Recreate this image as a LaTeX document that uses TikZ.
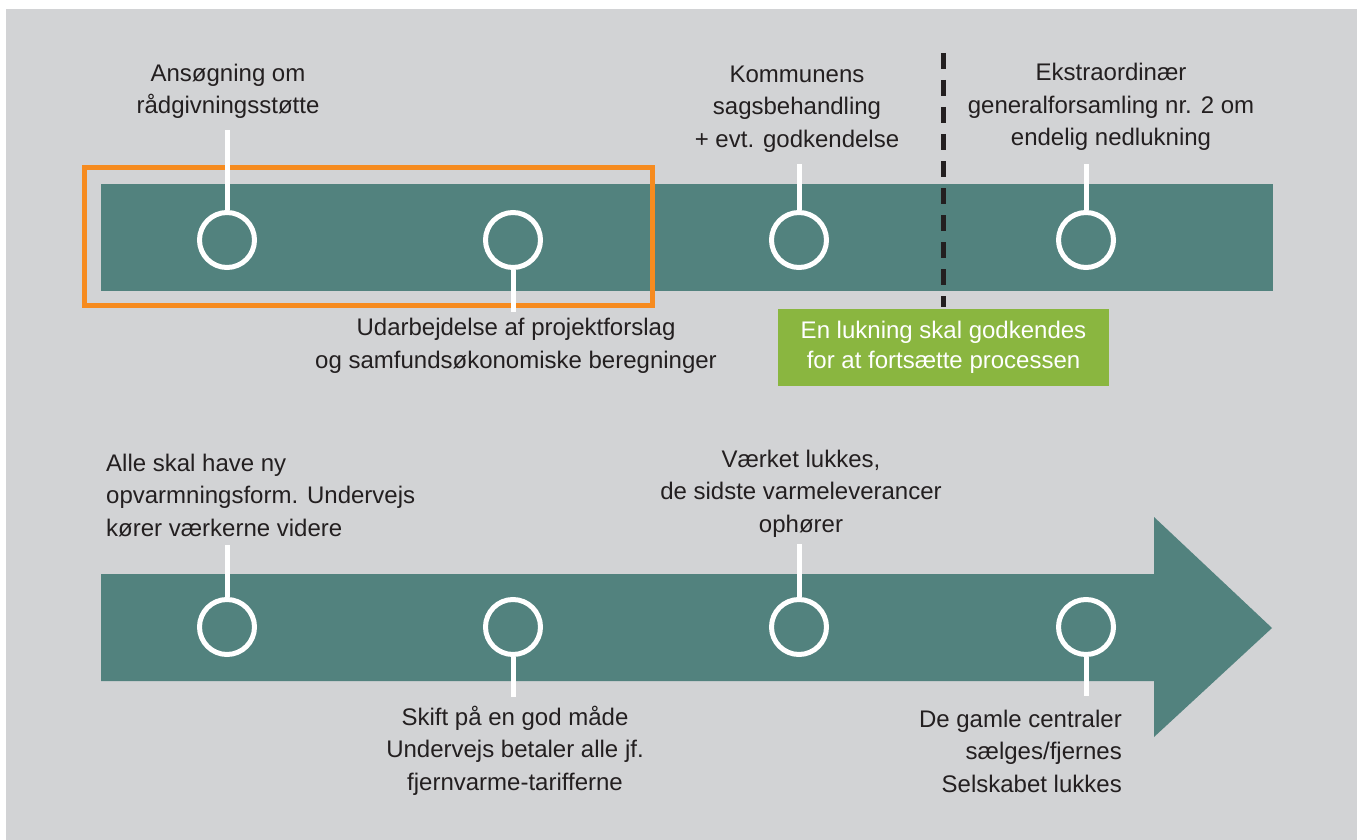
\documentclass[tikz,border=0pt]{standalone}
\usepackage{fontspec}
\setmainfont{Liberation Sans}
\definecolor{bg}{HTML}{D2D3D5}
\definecolor{teal}{HTML}{52827E}
\definecolor{orng}{HTML}{F68B1F}
\definecolor{grn}{HTML}{8AB640}
\definecolor{ink}{HTML}{231F20}
\begin{document}
\begin{tikzpicture}[x=1pt,y=-1pt,
  ms/.style={circle, minimum size=55pt, inner sep=0pt, draw=white, line width=5pt, fill=teal},
  stem/.style={draw=white, line width=5pt},
  lbl/.style={font=\fontsize{24}{32.5}\selectfont, text=ink, inner sep=0pt, anchor=base},
  band/.style={fill=teal, draw=none}]
\useasboundingbox (0,0) rectangle (1357,840);
\fill[white] (0,0) rectangle (1357,840);
\fill[bg] (6,9) rectangle (1357,840);
% top band
\path[band] (101,184) rectangle (1273,291);
% bottom arrow
\path[band] (101,574) -- (1154,574) -- (1154,517) -- (1272,628) -- (1154,737) -- (1154,681) -- (101,681) -- cycle;
% orange frame
\draw[orng, line width=5pt] (84.5,167.5) rectangle (652.5,305.5);
% dashed divider
\coordinate (dtop) at (943,53);
\coordinate (dbot) at (943,307);
\draw[ink, line width=5pt, dash pattern=on 16pt off 11pt] (dtop) -- (dbot);
% green box
\node[fill=grn, text=white, minimum width=331pt, minimum height=77pt, inner sep=0pt, align=center,
  font=\fontsize{24}{30.5}\selectfont] (gb) at (943.5,347.5) {En lukning skal godkendes\\for at fortsætte processen};
% top milestones
\node[ms] (a1) at (227,240) {};
\node[ms] (a2) at (513,240) {};
\node[ms] (a3) at (799,240) {};
\node[ms] (a4) at (1086,240) {};
\coordinate (sa1) at (227,130);
\coordinate (sa2) at (513,312);
\coordinate (sa3) at (799,164);
\coordinate (sa4) at (1086,164);
\draw[stem] (a1.north) -- (sa1);
\draw[stem] (a2.south) -- (sa2);
\draw[stem] (a3.north) -- (sa3);
\draw[stem] (a4.north) -- (sa4);
% bottom milestones
\node[ms] (b1) at (227,627) {};
\node[ms] (b2) at (513,627) {};
\node[ms] (b3) at (799,627) {};
\node[ms] (b4) at (1086,627) {};
\coordinate (sb1) at (227,545);
\coordinate (sb2) at (513,697);
\coordinate (sb3) at (799,544);
\coordinate (sb4) at (1086,696);
\draw[stem] (b1.north) -- (sb1);
\draw[stem] (b2.south) -- (sb2);
\draw[stem] (b3.north) -- (sb3);
\draw[stem] (b4.south) -- (sb4);
% labels (anchor = baseline of last line)
\node[lbl, align=center] (la1) at (228,114) {Ansøgning om\\rådgivningsstøtte};
\node[lbl, align=center] (la2) at (516,368) {Udarbejdelse af projektforslag\\og samfundsøkonomiske beregninger};
\node[lbl, align=center] (la3) at (797,147) {Kommunens\\sagsbehandling\\+ evt. godkendelse};
\node[lbl, align=center] (la4) at (1111,146) {Ekstraordinær\\generalforsamling nr. 2 om\\endelig nedlukning};
\node[lbl, align=left, anchor=base west] (lb1) at (106,536) {Alle skal have ny\\opvarmningsform. Undervejs\\kører værkerne videre};
\node[lbl, align=center] (lb2) at (515,790) {Skift på en god måde\\Undervejs betaler alle jf.\\fjernvarme-tarifferne};
\node[lbl, align=center] (lb3) at (801,532) {Værket lukkes,\\de sidste varmeleverancer\\ophører};
\node[lbl, align=right, anchor=base east] (lb4) at (1122,792) {De gamle centraler\\sælges/fjernes\\Selskabet lukkes};
\end{tikzpicture}
\end{document}
